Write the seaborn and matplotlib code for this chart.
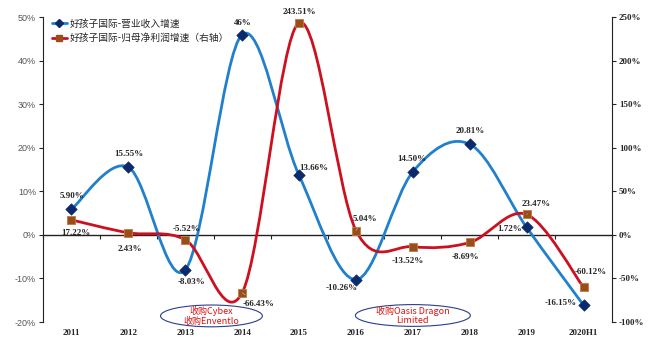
import matplotlib.pyplot as plt
import numpy as np
import pandas as pd
import seaborn as sns
from matplotlib.lines import Line2D
from matplotlib.patches import Ellipse, PathPatch
from matplotlib.path import Path

years = ["2011", "2012", "2013", "2014", "2015", "2016", "2017", "2018", "2019", "2020H1"]
revenue_growth = [5.90, 15.55, -8.03, 46.00, 13.66, -10.26, 14.50, 20.81, 1.72, -16.15]
profit_growth = [17.22, 2.43, -5.52, -66.43, 243.51, 5.04, -13.52, -8.69, 23.47, -60.12]
revenue_labels = ["5.90%", "15.55%", "-8.03%", "46%", "13.66%", "-10.26%", "14.50%", "20.81%", "1.72%", "-16.15%"]
profit_labels = ["17.22%", "2.43%", "-5.52%", "-66.43%", "243.51%", "5.04%", "-13.52%", "-8.69%", "23.47%", "-60.12%"]
left_ticks = [50, 40, 30, 20, 10, 0, -10, -20]
right_ticks = [250, 200, 150, 100, 50, 0, -50, -100]
revenue_name = "好孩子国际-营业收入增速"
profit_name = "好孩子国际-归母净利润增速（右轴）"
notes = ["收购Cybex\n收购Enventlo", "收购Oasis Dragon\nLimited"]

BLUE = "#2180cc"
NAVY = "#0b2a6b"
RED = "#cc1020"
BROWN = "#9a4d1c"

# label offsets in pixels (dx, dy)
rev_off = [(1, 13), (1, 13), (6, -12), (1, 12), (15, 7), (-14, -8), (-1, 13), (0, 13), (-17, -2), (-23, 2)]
pro_off = [(4, -13), (2, -16), (1, 11), (16, -11), (0, 11), (9, 12), (-5, -14), (-4, -15), (10, 10), (7, 15)]


def smooth_path(xs, ys):
    # Excel-like smoothed line as cubic Bezier segments (Catmull-Rom control points)
    pts = np.column_stack([xs, ys]).astype(float)
    padded = np.vstack([pts[0], pts, pts[-1]])
    verts = [pts[0]]
    codes = [Path.MOVETO]
    for i in range(len(pts) - 1):
        p0, p1, p2, p3 = padded[i], padded[i + 1], padded[i + 2], padded[i + 3]
        verts += [p1 + (p2 - p0) / 6, p2 - (p3 - p1) / 6, p2]
        codes += [Path.CURVE4] * 3
    return Path(verts, codes)


sns.set_style("white")
plt.rcParams["font.family"] = ["Noto Sans CJK SC", "DejaVu Sans"]

df = pd.DataFrame({"x": np.arange(len(years)), "revenue": revenue_growth, "profit": profit_growth})

fig = plt.figure(figsize=(6.63, 3.57), dpi=100)
ax = fig.add_axes([0.0649, 0.098, 0.8582, 0.854])
ax2 = ax.twinx()

ax.add_patch(PathPatch(smooth_path(df["x"], df["revenue"]), fill=False, edgecolor=BLUE, linewidth=2.0, zorder=2))
sns.scatterplot(data=df, x="x", y="revenue", ax=ax, marker="D", s=34, color=NAVY, edgecolor=NAVY, zorder=3)

ax2.add_patch(PathPatch(smooth_path(df["x"], df["profit"]), fill=False, edgecolor=RED, linewidth=2.0, zorder=2))
sns.scatterplot(data=df, x="x", y="profit", ax=ax2, marker="s", s=34, color=BROWN, edgecolor="#c07a3a", linewidth=0.6, zorder=3)

num_font = dict(family="Liberation Serif", fontweight="bold", fontsize=6.5)
for i, lab in enumerate(revenue_labels):
    ax.annotate(lab, (i, revenue_growth[i]), xytext=rev_off[i], textcoords="offset pixels",
                ha="center", va="center", zorder=5, **num_font)
for i, lab in enumerate(profit_labels):
    arrow = dict(arrowstyle="-", color="#b0b0b0", lw=0.5, shrinkA=2, shrinkB=3) if abs(pro_off[i][0]) > 5 else None
    ax2.annotate(lab, (i, profit_growth[i]), xytext=pro_off[i], textcoords="offset pixels",
                 ha="center", va="center", zorder=5, arrowprops=arrow, **num_font)

ax.set_xlim(-0.5, len(years) - 0.5)
ax.set_ylim(-20, 50)
ax2.set_ylim(-100, 250)
ax.set_xlabel("")
ax.set_ylabel("")
ax2.set_ylabel("")

ax.set_yticks(left_ticks)
ax.set_yticklabels([f"{v}%" for v in left_ticks], family="Liberation Sans", fontsize=6.5, color="#555555")
ax2.set_yticks(right_ticks)
ax2.set_yticklabels([f"{v}%" for v in right_ticks], **num_font)
ax.set_xticks(np.arange(len(years)))
ax.set_xticklabels(years, **num_font)
ax.tick_params(axis="x", length=0, pad=5)
ax.tick_params(axis="y", direction="out", length=3, width=0.8, pad=2)
ax2.tick_params(axis="y", direction="out", length=3, width=0.8, pad=2)

for a in (ax, ax2):
    a.spines["top"].set_visible(False)
    a.spines["bottom"].set_visible(False)
    a.grid(False)
ax.spines["left"].set_color("#222222")
ax2.spines["right"].set_color("#222222")
ax2.spines["left"].set_visible(False)
ax.spines["right"].set_visible(False)

# zero line with category boundary ticks
zero = ax.secondary_xaxis(20 / 70)
zero.set_xticks(np.arange(len(years) + 1) - 0.5)
zero.set_xticklabels([])
zero.tick_params(direction="out", length=3, width=0.8, color="#222222")
zero.spines["bottom"].set_color("#222222")
zero.spines["bottom"].set_linewidth(1.0)

# acquisition notes
for (cx, cy, w), txt in zip([(2.46, -18.6, 1.79), (6.0, -18.5, 2.02)], notes):
    ax.add_patch(Ellipse((cx, cy), width=w, height=5.0, facecolor="white", edgecolor="#2a3f8f",
                         linewidth=0.8, clip_on=False, zorder=4))
    ax.text(cx, cy, txt, ha="center", va="center", color="#e01010", fontsize=6.5,
            linespacing=1.1, zorder=6, clip_on=False)

handles = [
    Line2D([0], [0], color=BLUE, lw=2, marker="D", markersize=4, markerfacecolor=NAVY, markeredgecolor=NAVY),
    Line2D([0], [0], color=RED, lw=2, marker="s", markersize=4, markerfacecolor=BROWN, markeredgecolor=BROWN),
]
leg = ax2.legend(handles, [revenue_name, profit_name], loc="upper left", bbox_to_anchor=(0.005, 1.015),
                 frameon=False, fontsize=7, handlelength=1.6, handletextpad=0.3, labelspacing=0.5,
                 borderaxespad=0.2)

fig.savefig("out.png", dpi=100)
